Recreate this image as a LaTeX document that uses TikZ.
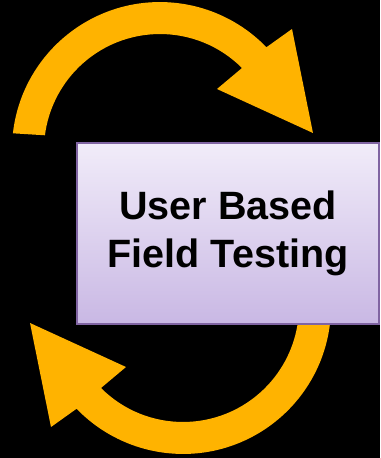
\documentclass[tikz,border=0pt]{standalone}
\usepackage{fontspec}
\setmainfont{Liberation Sans}
\usetikzlibrary{positioning}
\definecolor{cycleOrange}{RGB}{255,179,0}
\definecolor{boxTop}{RGB}{241,236,249}
\definecolor{boxBottom}{RGB}{201,184,228}
\definecolor{boxLine}{RGB}{128,100,162}
\tikzstyle{cycle}=[fill=cycleOrange,draw=none]
\tikzstyle{task}=[draw=boxLine,line width=0.9pt,top color=boxTop,bottom color=boxBottom,
  minimum width=6.04cm,minimum height=3.62cm,align=center,
  font=\bfseries\fontsize{22.5}{27}\selectfont]
\newcommand{\newCycle}[1]{\fill[cycle,#1] (12.9,324.7)
  arc[start angle=173.5,end angle=44,radius=148] -- (292,429) -- (313,325)
  -- (217,369) -- (242,390) arc[start angle=45,end angle=172.7,radius=116] -- cycle;}

\begin{document}
\begin{tikzpicture}[x=0.02cm,y=0.02cm]
    \fill[black] (0,0) rectangle (380,458);
    \useasboundingbox (0,0) rectangle (380,458);
    \newCycle{}
    \newCycle{rotate around={180:(171.5,230)}}
    \node[task] (test) at (228,224.5) {User Based\\Field Testing};
  \end{tikzpicture}
\end{document}
